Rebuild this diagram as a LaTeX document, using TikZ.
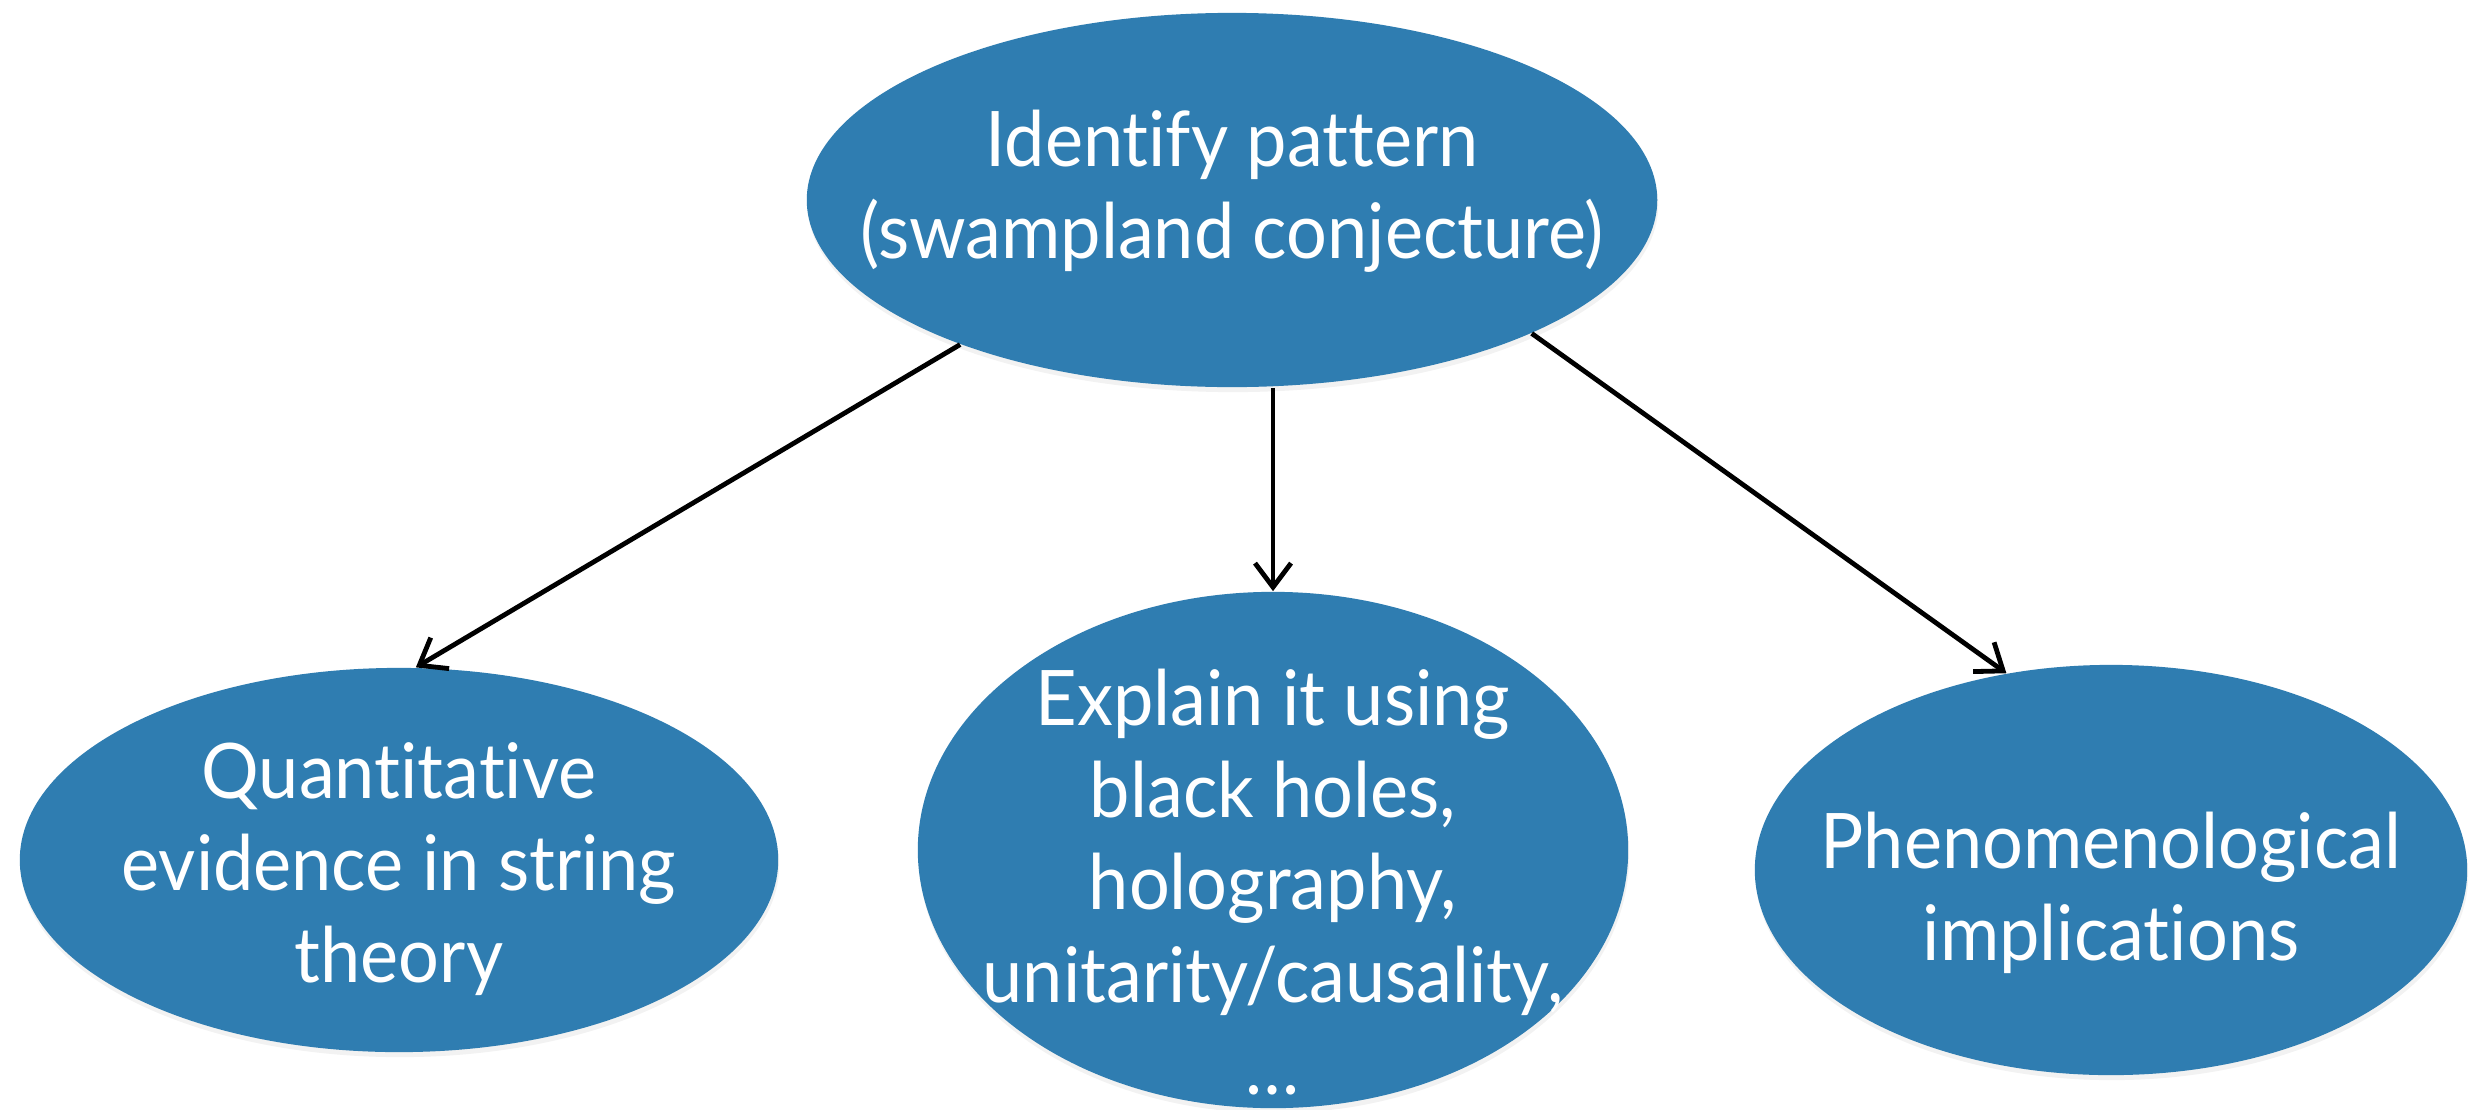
\documentclass[tikz,border=0pt]{standalone}
\usepackage{fontspec}
\setmainfont{Lato}[Ligatures={NoCommon,NoRare}, FakeStretch=0.94]
\usetikzlibrary{arrows.meta,shapes.geometric,shadows}
\definecolor{ellblue}{RGB}{47,125,177}
\tikzset{
  blob/.style={ellipse, fill=ellblue, draw=none, inner sep=0pt,
    drop shadow={opacity=0.10, shadow xshift=0.01cm, shadow yshift=-0.05cm}},
  lbl/.style={text=white, align=center, inner sep=0pt,
    font=\fontsize{21.8pt}{26.2pt}\selectfont},
  arr/.style={draw=black, line width=0.048cm,
    -{Straight Barb[length=0.24cm, width=0.36cm]}}
}
\begin{document}
\begin{tikzpicture}[x=0.01cm, y=-0.01cm]
\useasboundingbox[fill=white] (0,0) rectangle (2479,1109);
\node[blob, minimum width=8.50cm, minimum height=3.74cm] (top) at (1232,200) {};
\node[blob, minimum width=7.58cm, minimum height=3.84cm] (left) at (399,860) {};
\node[blob, minimum width=7.10cm, minimum height=5.16cm] (mid) at (1273,850) {};
\node[blob, minimum width=7.12cm, minimum height=4.10cm] (right) at (2111,870) {};
\node[lbl] (ttop) at (1232,191) {Identify pattern\\(swampland conjecture)};
\node[lbl] (tleft) at (399,869) {Quantitative\\evidence in string\\theory};
\node[lbl] (tmid) at (1273,882) {Explain it using\\black holes,\\holography,\\unitarity/causality,\\\dots};
\node[lbl] (tright) at (2111,893) {Phenomenological\\implications};
\draw[arr] (top.208) -- (left.85);
\draw[arr] (top.south -| mid.north) -- (mid.north);
\draw[arr] (top.336) -- (right.118);
\end{tikzpicture}
\end{document}
